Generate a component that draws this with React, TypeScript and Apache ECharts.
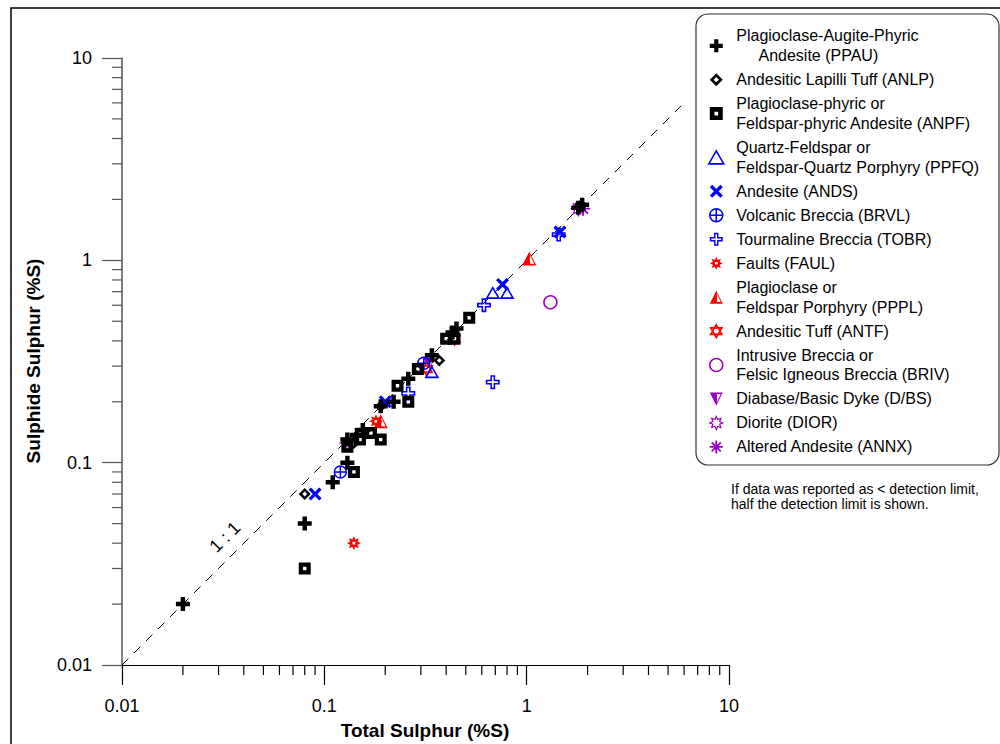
import React, { useEffect, useRef } from "react";
import * as echarts from "echarts";

// ---------- data ----------
const seriesKeys = ["PPAU", "ANLP", "ANPF", "PPFQ", "ANDS", "BRVL", "TOBR", "FAUL", "PPPL", "ANTF", "BRIV", "D/BS", "DIOR", "ANNX"];
const legendLabels = [
  "Plagioclase-Augite-Phyric\n\u00a0\u00a0\u00a0\u00a0\u00a0Andesite (PPAU)",
  "Andesitic Lapilli Tuff (ANLP)",
  "Plagioclase-phyric or\nFeldspar-phyric Andesite (ANPF)",
  "Quartz-Feldspar or\nFeldspar-Quartz Porphyry (PPFQ)",
  "Andesite (ANDS)",
  "Volcanic Breccia (BRVL)",
  "Tourmaline Breccia (TOBR)",
  "Faults (FAUL)",
  "Plagioclase or\nFeldspar Porphyry (PPPL)",
  "Andesitic Tuff (ANTF)",
  "Intrusive Breccia or\nFelsic Igneous Breccia (BRIV)",
  "Diabase/Basic Dyke (D/BS)",
  "Diorite (DIOR)",
  "Altered Andesite (ANNX)",
];

// [Total Sulphur %S, Sulphide Sulphur %S]
const ppau = [[0.02, 0.02], [0.08, 0.05], [0.11, 0.08], [0.13, 0.10], [0.13, 0.13], [0.145, 0.137], [0.155, 0.145], [0.19, 0.19], [0.22, 0.20], [0.26, 0.26], [0.34, 0.34], [0.43, 0.44], [0.45, 0.46], [1.80, 1.82], [1.88, 1.88]];
const anlp = [[0.08, 0.07], [0.19, 0.19], [0.37, 0.32], [0.14, 0.125]];
const anpf = [[0.08, 0.03], [0.14, 0.09], [0.13, 0.12], [0.15, 0.13], [0.17, 0.14], [0.19, 0.13], [0.23, 0.24], [0.26, 0.20], [0.29, 0.29], [0.40, 0.41], [0.44, 0.41], [0.52, 0.52]];
const ppfq = [[0.34, 0.28], [0.68, 0.69], [0.80, 0.69]];
const ands = [[0.09, 0.07], [0.20, 0.20], [0.76, 0.76], [1.46, 1.38]];
const brvl = [[0.12, 0.09], [0.31, 0.31]];
const tobr = [[0.26, 0.22], [0.615, 0.60], [0.68, 0.25], [1.44, 1.34]];
const faul = [[0.14, 0.04], [0.18, 0.16]];
const pppl = [[0.19, 0.16], [1.03, 1.02]];
const antf = [[0.32, 0.29], [0.44, 0.41]];
const briv = [[1.31, 0.62]];
const dbs = [[0.33, 0.31]];
const dior = [[1.80, 1.80], [0.13, 0.125]];
const annx = [[1.90, 1.80]];

const oneToOne = [[0.01, 0.01], [6.1, 6.1]];
const tickLabels = ["0.01", "0.1", "1", "10"];
const minorTickValues = [0.02, 0.03, 0.04, 0.05, 0.06, 0.07, 0.08, 0.09, 0.2, 0.3, 0.4, 0.5, 0.6, 0.7, 0.8, 0.9, 2, 3, 4, 5, 6, 7, 8, 9];

// ---------- symbols ----------
const P_PLUS = "path://M34,0H66V34H100V66H66V100H34V66H0V34H34Z";
const P_DIAMOND = "path://M50,0L100,50L50,100L0,50ZM50,30L30,50L50,70L70,50Z";
const P_SQUARE = "path://M0,0H100V100H0ZM36,36V64H64V36Z";
const P_TRI = "path://M50,0L100,87L0,87Z";
const P_X = "path://M0,18L18,0L50,32L82,0L100,18L68,50L100,82L82,100L50,68L18,100L0,82L32,50Z";
const P_CIRCPLUS = "path://M0,50A50,50,0,1,1,100,50A50,50,0,1,1,0,50ZM50,0L50,100M0,50L100,50";
const P_OPLUS = "path://M33,0H67V33H100V67H67V100H33V67H0V33H33ZM44,12V44H12V56H44V88H56V56H88V44H56V12Z";
const P_BURST = "path://M100,50L75.9,60.7L85.4,85.4L60.7,75.9L50,100L39.3,75.9L14.6,85.4L24.1,60.7L0,50L24.1,39.3L14.6,14.6L39.3,24.1L50,0L60.7,24.1L85.4,14.6L75.9,39.3ZM40,40V60H60V40Z";
const P_HALFTRI = "path://M50,0L100,100L0,100ZM55,22L55,86L85,86Z";
const P_HEX = "path://M50,0L93,75L7,75ZM50,100L7,25L93,25Z";
const P_HALFDOWN = "path://M0,0L100,0L50,100ZM55,12L55,76L85,12Z";
const P_STAR = "path://M100,50L75.9,60.7L85.4,85.4L60.7,75.9L50,100L39.3,75.9L14.6,85.4L24.1,60.7L0,50L24.1,39.3L14.6,14.6L39.3,24.1L50,0L60.7,24.1L85.4,14.6L75.9,39.3Z";
const P_AST = "path://M50,0L50,100M0,50L100,50M15,15L85,85M85,15L15,85";

const BLACK = "#000000";
const BLUE = "#0000FF";
const RED = "#FF0000";
const PURPLE = "#9900CC";
const CLEAR = "rgba(0,0,0,0)";
const FONT = '"Liberation Sans", Arial, sans-serif';

const seriesDefs: any[] = [
  { key: "PPAU", data: ppau, symbol: P_PLUS, size: 14, style: { color: BLACK } },
  { key: "ANLP", data: anlp, symbol: P_DIAMOND, size: 12, style: { color: BLACK } },
  { key: "ANPF", data: anpf, symbol: P_SQUARE, size: 12, style: { color: BLACK } },
  { key: "PPFQ", data: ppfq, symbol: P_TRI, size: 12, style: { color: CLEAR, borderColor: BLUE, borderWidth: 1.6 } },
  { key: "ANDS", data: ands, symbol: P_X, size: 13, style: { color: BLUE } },
  { key: "BRVL", data: brvl, symbol: P_CIRCPLUS, size: 12, style: { color: CLEAR, borderColor: BLUE, borderWidth: 1.5 } },
  { key: "TOBR", data: tobr, symbol: P_OPLUS, size: 14, style: { color: BLUE } },
  { key: "FAUL", data: faul, symbol: P_BURST, size: 14, style: { color: RED } },
  { key: "PPPL", data: pppl, symbol: P_HALFTRI, size: 14, style: { color: RED } },
  { key: "ANTF", data: antf, symbol: P_HEX, size: 13, style: { color: "#FFFFFF", borderColor: RED, borderWidth: 1.6 } },
  { key: "BRIV", data: briv, symbol: "circle", size: 13, style: { color: CLEAR, borderColor: PURPLE, borderWidth: 1.5 } },
  { key: "D/BS", data: dbs, symbol: P_HALFDOWN, size: 13, style: { color: PURPLE } },
  { key: "DIOR", data: dior, symbol: P_STAR, size: 14, style: { color: "#FFFFFF", borderColor: PURPLE, borderWidth: 1.2 } },
  { key: "ANNX", data: annx, symbol: P_AST, size: 14, style: { color: CLEAR, borderColor: PURPLE, borderWidth: 1.8 } },
];

function buildOption(): any {
  const scatterSeries = seriesDefs
    .slice()
    .reverse()
    .map((d) => ({
      type: "scatter",
      name: d.key,
      data: d.data,
      symbol: d.symbol,
      symbolSize: d.size,
      symbolKeepAspect: true,
      itemStyle: { ...d.style, opacity: 1 },
      silent: true,
      z: 3,
    }));

  const legendData = seriesDefs.map((d) => ({
    name: d.key,
    itemStyle: { borderWidth: d.style.borderWidth ? d.style.borderWidth : 0 },
  }));

  const labelFmt = (_v: number, i: number) => tickLabels[i] ?? String(_v);

  return {
    animation: false,
    backgroundColor: "#FFFFFF",
    grid: { left: 122, right: 271, top: 58, bottom: 79, containLabel: false },
    xAxis: {
      type: "log",
      logBase: 10,
      min: 0.01,
      max: 10,
      axisLine: { show: true, onZero: false, lineStyle: { color: "#000", width: 1.2 } },
      axisTick: { show: true, length: 20, inside: false, lineStyle: { color: "#000", width: 1.2 } },
      minorTick: { show: false },
      splitLine: { show: false },
      axisLabel: { margin: 32, fontSize: 18, fontFamily: FONT, color: "#000", formatter: labelFmt },
    },
    yAxis: {
      type: "log",
      logBase: 10,
      min: 0.01,
      max: 10,
      axisLine: { show: true, onZero: false, lineStyle: { color: "#555", width: 1.5 } },
      axisTick: { show: true, length: 20, inside: false, lineStyle: { color: "#555", width: 1.2 } },
      minorTick: { show: false },
      splitLine: { show: false },
      axisLabel: { margin: 30, fontSize: 18, fontFamily: FONT, color: "#000", formatter: labelFmt },
    },
    legend: {
      orient: "vertical",
      left: 708,
      top: 26,
      padding: 0,
      itemGap: 4.2,
      itemWidth: 30,
      itemHeight: 13,
      selectedMode: false,
      textStyle: { fontSize: 16, fontFamily: FONT, color: "#000", lineHeight: 19.8 },
      formatter: (name: string) => legendLabels[seriesKeys.indexOf(name)] ?? name,
      data: legendData,
    },
    graphic: [
      { type: "rect", silent: true, z: 0, shape: { x: 11, y: 8, width: 1200, height: 1000 }, style: { fill: "none", stroke: "#000", lineWidth: 1.5 } },
      { type: "rect", silent: true, z: 0, shape: { x: 696, y: 14, width: 303, height: 451, r: 12 }, style: { fill: "none", stroke: "#333", lineWidth: 1.2 } },
      {
        type: "text", silent: true, x: 731, y: 481,
        style: { text: "If data was reported as < detection limit,\nhalf the detection limit is shown.", font: "14px " + FONT, fill: "#000", lineHeight: 15 },
      },
      {
        type: "text", silent: true, x: 425, y: 730,
        style: { text: "Total Sulphur (%S)", font: "bold 19px " + FONT, fill: "#000", align: "center", verticalAlign: "middle", textAlign: "center", textVerticalAlign: "middle" },
      },
      {
        type: "text", silent: true, x: 33, y: 361, rotation: Math.PI / 2,
        style: { text: "Sulphide Sulphur (%S)", font: "bold 19px " + FONT, fill: "#000", align: "center", verticalAlign: "middle", textAlign: "center", textVerticalAlign: "middle" },
      },
      {
        type: "text", silent: true, x: 225, y: 537, rotation: Math.PI / 4,
        style: { text: "1 : 1", font: "18px " + FONT, fill: "#000", align: "center", verticalAlign: "middle", textAlign: "center", textVerticalAlign: "middle" },
      },
    ],
    series: [
      {
        type: "line",
        name: "1:1",
        data: oneToOne,
        symbol: "none",
        silent: true,
        z: 1,
        lineStyle: { color: "#000", width: 1, type: [9, 8] },
      },
      {
        type: "custom",
        name: "xminor",
        clip: false,
        silent: true,
        z: 1,
        data: minorTickValues.map((v) => [v, 0.01]),
        renderItem: (_p: any, api: any) => {
          const p = api.coord([api.value(0), api.value(1)]);
          return { type: "line", shape: { x1: p[0], y1: p[1], x2: p[0], y2: p[1] + 10 }, style: { stroke: "#000", lineWidth: 1.2 } };
        },
      },
      {
        type: "custom",
        name: "yminor",
        clip: false,
        silent: true,
        z: 1,
        data: minorTickValues.map((v) => [0.01, v]),
        renderItem: (_p: any, api: any) => {
          const p = api.coord([api.value(0), api.value(1)]);
          return { type: "line", shape: { x1: p[0] - 10, y1: p[1], x2: p[0], y2: p[1] }, style: { stroke: "#555", lineWidth: 1.2 } };
        },
      },
      ...scatterSeries,
    ],
  };
}

export default function App() {
  const ref = useRef<HTMLDivElement>(null);
  useEffect(() => {
    if (!ref.current) return;
    const chart = echarts.init(ref.current, null, { renderer: "svg" });
    chart.setOption(buildOption());
    return () => chart.dispose();
  }, []);
  return (
    <div
      ref={ref}
      style={{ position: "fixed", left: 0, top: 0, width: 1000, height: 744, background: "#fff" }}
    />
  );
}
